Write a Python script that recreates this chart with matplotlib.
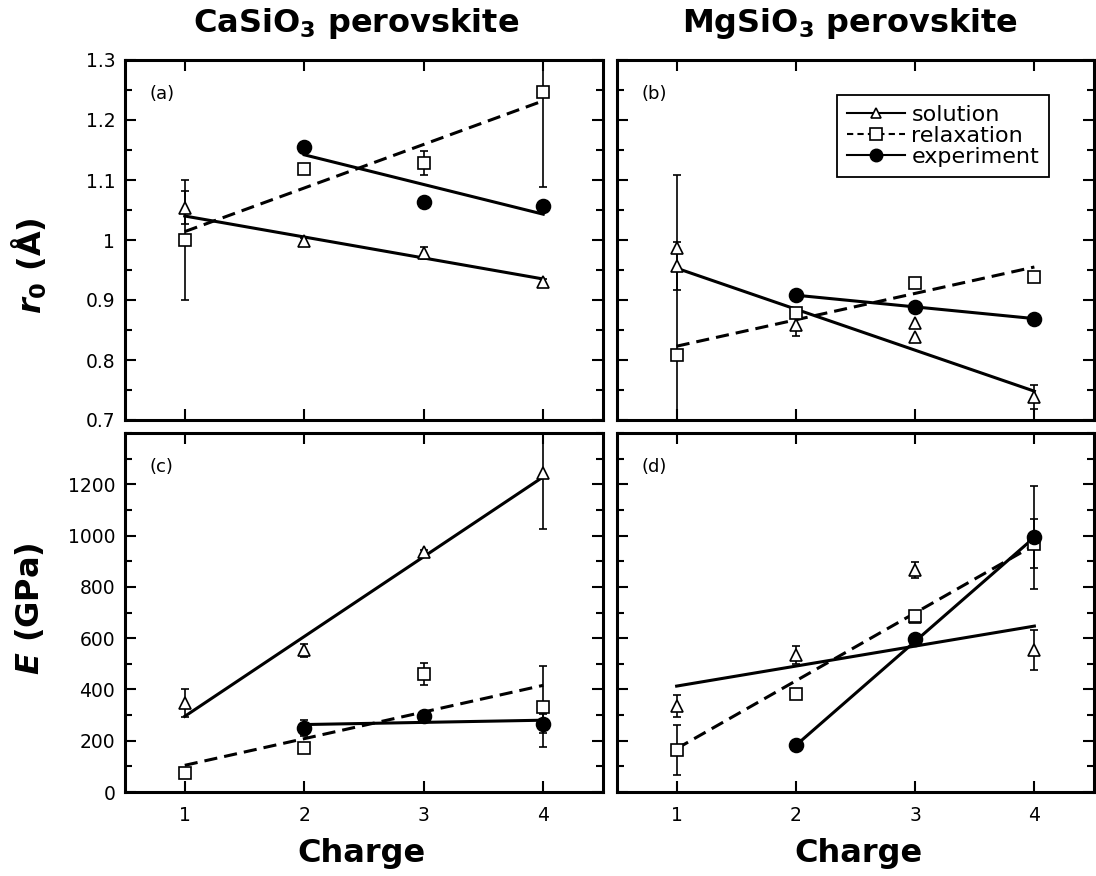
# Young's modulus / r0 vs charge for CaSiO3 and MgSiO3 perovskite
import numpy as np
import matplotlib
matplotlib.use('Agg')
import matplotlib.pyplot as plt
from matplotlib.lines import Line2D
from matplotlib.ticker import MultipleLocator, FixedLocator, FormatStrFormatter

plt.rcParams['font.family'] = 'DejaVu Sans'
plt.rcParams['mathtext.fontset'] = 'custom'
plt.rcParams['mathtext.rm'] = 'DejaVu Sans:bold'
plt.rcParams['mathtext.bf'] = 'DejaVu Sans:bold'
plt.rcParams['mathtext.it'] = 'DejaVu Sans:italic:bold'

# ---- data ----
# (a) CaSiO3, r0
a_sol_x = [1, 2, 3, 4]
a_sol_y = [1.054, 0.998, 0.979, 0.930]
a_sol_err = [0.027, 0.005, 0.010, 0.005]
a_sol_fit = [1.040, 0.935]          # at charge 1 and 4
a_rel_x = [1, 2, 3, 4]
a_rel_y = [1.000, 1.118, 1.128, 1.247]
a_rel_err = [0.100, 0.0, 0.020, 0.158]
a_rel_fit = [1.014, 1.232]
a_exp_x = [2, 3, 4]
a_exp_y = [1.155, 1.064, 1.056]
a_exp_err = [0.0, 0.0, 0.0]
a_exp_fit = [1.142, 1.043]          # at charge 2 and 4

# (b) MgSiO3, r0
b_sol_x = [1, 1, 2, 3, 3, 4]
b_sol_y = [0.986, 0.957, 0.858, 0.861, 0.839, 0.739]
b_sol_err = [0.0, 0.040, 0.018, 0.0, 0.0, 0.020]
b_sol_fit = [0.953, 0.748]
b_rel_x = [1, 2, 3, 4]
b_rel_y = [0.808, 0.878, 0.929, 0.939]
b_rel_err = [0.300, 0.0, 0.0, 0.0]
b_rel_fit = [0.823, 0.955]
b_exp_x = [2, 3, 4]
b_exp_y = [0.908, 0.889, 0.868]
b_exp_err = [0.0, 0.0, 0.0]
b_exp_fit = [0.908, 0.869]

# (c) CaSiO3, E
c_sol_x = [1, 2, 3, 4]
c_sol_y = [347, 553, 937, 1245]
c_sol_err = [54, 26, 5, 221]
c_sol_fit = [295, 1229]
c_rel_x = [1, 2, 3, 4]
c_rel_y = [74, 173, 459, 332]
c_rel_err = [0, 0, 43, 158]
c_rel_fit = [104, 416]
c_exp_x = [2, 3, 4]
c_exp_y = [250, 295, 267]
c_exp_err = [30, 0, 38]
c_exp_fit = [263, 280]

# (d) MgSiO3, E
d_sol_x = [1, 2, 3, 3, 4]
d_sol_y = [334, 534, 866, 683, 553]
d_sol_err = [43, 35, 32, 0, 78]
d_sol_fit = [413, 647]
d_rel_x = [1, 2, 3, 4]
d_rel_y = [163, 381, 688, 969]
d_rel_err = [97, 0, 0, 97]
d_rel_fit = [169, 963]
d_exp_x = [2, 3, 4]
d_exp_y = [182, 595, 993]
d_exp_err = [0, 0, 200]
d_exp_fit = [182, 993]

charges = [1, 2, 3, 4]

styles = {
    'sol': dict(marker='^', ms=8.5, ls='-'),
    'rel': dict(marker='s', ms=9, ls=(0, (4.3, 2.3))),
    'exp': dict(marker='o', ms=10, ls='-'),
}


def draw_series(ax, kind, x, y, err, fit):
    st = styles[kind]
    x = np.array(x)
    y = np.array(y)
    err = np.array(err)
    # fit line across the charges it covers
    ax.plot([x.min(), x.max()], fit, color='black', lw=2.2, ls=st['ls'], zorder=2)
    m = err > 0
    if m.any():
        ax.errorbar(x[m], y[m], yerr=err[m], fmt='none', ecolor='black',
                    elinewidth=1.2, capsize=3, capthick=1.2, zorder=3)
    face = 'black' if kind == 'exp' else 'white'
    ax.plot(x, y, ls='none', marker=st['marker'], ms=st['ms'], mfc=face,
            mec='black', mew=1.2, zorder=4)


def style_axes(ax, top_row, left_col):
    for s in ax.spines.values():
        s.set_linewidth(2.2)
    ax.set_xlim(0.5, 4.5)
    ax.xaxis.set_major_locator(FixedLocator(charges))
    if top_row:
        ax.set_ylim(0.7, 1.3)
        ax.yaxis.set_major_locator(MultipleLocator(0.1))
        ax.yaxis.set_minor_locator(MultipleLocator(0.05))
    else:
        ax.set_ylim(0, 1400)
        ax.yaxis.set_major_locator(FixedLocator([0, 200, 400, 600, 800, 1000, 1200]))
        ax.yaxis.set_minor_locator(MultipleLocator(100))
    ax.yaxis.set_major_formatter(FormatStrFormatter('%g'))
    ax.tick_params(which='both', direction='in', top=True, right=True, width=1.5,
                   labelsize=13.5)
    ax.tick_params(which='major', length=8)
    ax.tick_params(which='minor', length=5)
    ax.tick_params(axis='x', pad=10, labelbottom=not top_row)
    ax.tick_params(axis='y', pad=7, labelleft=left_col)


fig = plt.figure(figsize=(10.96, 8.76), dpi=100)
W, H = 1096, 876


def px_axes(left, top, right, bottom):
    return fig.add_axes([left / W, (H - bottom) / H, (right - left) / W, (bottom - top) / H])


ax_a = px_axes(125, 60, 603, 420)
ax_b = px_axes(617, 60, 1094, 420)
ax_c = px_axes(125, 433, 603, 792)
ax_d = px_axes(617, 433, 1094, 792)

panels = [
    (ax_a, '(a)', True, True,
     [('sol', a_sol_x, a_sol_y, a_sol_err, a_sol_fit),
      ('rel', a_rel_x, a_rel_y, a_rel_err, a_rel_fit),
      ('exp', a_exp_x, a_exp_y, a_exp_err, a_exp_fit)]),
    (ax_b, '(b)', True, False,
     [('sol', b_sol_x, b_sol_y, b_sol_err, b_sol_fit),
      ('rel', b_rel_x, b_rel_y, b_rel_err, b_rel_fit),
      ('exp', b_exp_x, b_exp_y, b_exp_err, b_exp_fit)]),
    (ax_c, '(c)', False, True,
     [('sol', c_sol_x, c_sol_y, c_sol_err, c_sol_fit),
      ('rel', c_rel_x, c_rel_y, c_rel_err, c_rel_fit),
      ('exp', c_exp_x, c_exp_y, c_exp_err, c_exp_fit)]),
    (ax_d, '(d)', False, False,
     [('sol', d_sol_x, d_sol_y, d_sol_err, d_sol_fit),
      ('rel', d_rel_x, d_rel_y, d_rel_err, d_rel_fit),
      ('exp', d_exp_x, d_exp_y, d_exp_err, d_exp_fit)]),
]

for ax, tag, top_row, left_col, series in panels:
    for kind, x, y, err, fit in series:
        draw_series(ax, kind, x, y, err, fit)
    style_axes(ax, top_row, left_col)
    ax.text(0.052, 0.905, tag, transform=ax.transAxes, fontsize=13, va='center', ha='left')

# legend in panel (b)
handles = [
    Line2D([], [], color='black', lw=1.5, ls='-', marker='^', ms=7, mfc='white', mec='black', mew=1.2),
    Line2D([], [], color='black', lw=1.5, ls=(0, (3, 2)), marker='s', ms=8, mfc='white', mec='black', mew=1.2),
    Line2D([], [], color='black', lw=1.5, ls='-', marker='o', ms=9, mfc='black', mec='black'),
]
leg = ax_b.legend(handles, ['solution', 'relaxation', 'experiment'], loc='upper left',
                  bbox_to_anchor=(0.461, 0.903), borderaxespad=0, fontsize=16,
                  handlelength=2.6, handletextpad=0.3, labelspacing=0.05, borderpad=0.45,
                  fancybox=False, framealpha=1, edgecolor='black')
leg.get_frame().set_linewidth(1.3)

# column titles, axis labels
fig.text(356 / W, (H - 32) / H, r'CaSiO$_3$ perovskite', fontsize=23, fontweight='bold',
         ha='center', va='baseline')
fig.text(850 / W, (H - 32) / H, r'MgSiO$_3$ perovskite', fontsize=23, fontweight='bold',
         ha='center', va='baseline')
fig.text(361 / W, (H - 862) / H, 'Charge', fontsize=23, fontweight='bold', ha='center', va='baseline')
fig.text(858 / W, (H - 862) / H, 'Charge', fontsize=23, fontweight='bold', ha='center', va='baseline')
fig.text(29 / W, (H - 266) / H, r'$r_0$ (Å)', fontsize=23, fontweight='bold', rotation=90,
         ha='center', va='center')
fig.text(29 / W, (H - 609) / H, r'$E$ (GPa)', fontsize=23, fontweight='bold', rotation=90,
         ha='center', va='center')

fig.savefig('out.png', dpi=100)
